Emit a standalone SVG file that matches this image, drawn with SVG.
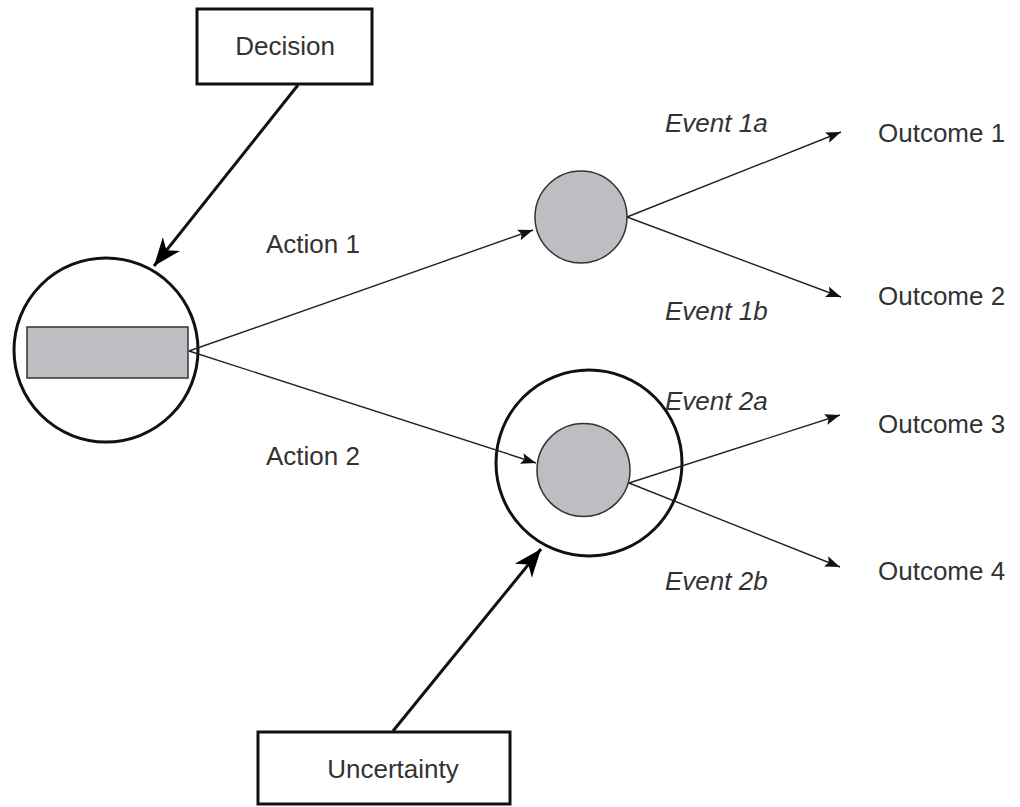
<svg xmlns="http://www.w3.org/2000/svg" width="1020" height="807" viewBox="0 0 1020 807">
  <style>
    .lbl { font-family: "Liberation Sans", Arial, sans-serif; font-size: 26px; fill: #333; }
    .ev { font-style: italic; }
    .box { fill: #fff; stroke: #111; stroke-width: 3; }
    .ring { fill: none; stroke: #111; stroke-width: 3; }
    .chance { fill: #bdbec2; stroke: #333; stroke-width: 1.5; }
    .thin { fill: none; stroke: #222; stroke-width: 1.4; marker-end: url(#tip); }
    .thick { fill: none; stroke: #111; stroke-width: 3; marker-end: url(#bigtip); }
  </style>
  <defs>
    <marker id="tip" markerUnits="userSpaceOnUse" viewBox="-16 -8 18 16" markerWidth="18" markerHeight="16" refX="0" refY="0" orient="auto">
      <path d="M0,0 L-15,-5.5 L-12,0 L-15,5.5 Z" fill="#111"/>
    </marker>
    <marker id="bigtip" markerUnits="userSpaceOnUse" viewBox="-30 -14 32 28" markerWidth="32" markerHeight="28" refX="0" refY="0" orient="auto">
      <path d="M0,0 L-28,-11 L-20,0 L-28,11 Z" fill="#000"/>
    </marker>
  </defs>

  <!-- decision box -->
  <g id="decision">
    <rect class="box" x="197" y="9" width="175" height="75"/>
    <text class="lbl" x="285" y="55" text-anchor="middle">Decision</text>
  </g>

  <!-- decision node: ring with gray bar -->
  <g id="decision-node">
    <circle class="ring" cx="106" cy="350" r="92"/>
    <rect class="chance" x="27" y="327" width="161" height="51"/>
  </g>

  <!-- chance node for action 1 -->
  <g id="chance-1">
    <circle class="chance" cx="581" cy="217" r="46"/>
  </g>

  <!-- uncertain chance node for action 2 -->
  <g id="chance-2">
    <circle class="ring" cx="589" cy="463" r="93"/>
    <circle class="chance" cx="583.5" cy="470" r="46.5"/>
  </g>

  <!-- uncertainty box -->
  <g id="uncertainty">
    <rect class="box" x="258" y="732" width="252" height="72"/>
    <text class="lbl" x="393" y="778" text-anchor="middle">Uncertainty</text>
  </g>

  <!-- connectors -->
  <g id="connectors">
    <line class="thick" x1="298" y1="85" x2="154" y2="266"/>
    <line class="thick" x1="393" y1="731" x2="541" y2="549"/>
    <line class="thin" x1="189" y1="351" x2="533" y2="230"/>
    <line class="thin" x1="189" y1="351" x2="536" y2="463"/>
    <line class="thin" x1="627" y1="217" x2="841" y2="132"/>
    <line class="thin" x1="627" y1="217" x2="841" y2="297"/>
    <line class="thin" x1="629" y1="483" x2="840" y2="415"/>
    <line class="thin" x1="629" y1="483" x2="840" y2="567"/>
  </g>

  <!-- branch labels -->
  <g id="labels">
    <text class="lbl" x="266" y="253">Action 1</text>
    <text class="lbl" x="266" y="465">Action 2</text>
    <text class="lbl ev" x="665" y="132">Event 1a</text>
    <text class="lbl ev" x="665" y="320">Event 1b</text>
    <text class="lbl ev" x="665" y="410">Event 2a</text>
    <text class="lbl ev" x="665" y="590">Event 2b</text>
  </g>

  <!-- outcomes -->
  <g id="outcome-1"><text class="lbl" x="878" y="142">Outcome 1</text></g>
  <g id="outcome-2"><text class="lbl" x="878" y="305">Outcome 2</text></g>
  <g id="outcome-3"><text class="lbl" x="878" y="433">Outcome 3</text></g>
  <g id="outcome-4"><text class="lbl" x="878" y="580">Outcome 4</text></g>
</svg>
